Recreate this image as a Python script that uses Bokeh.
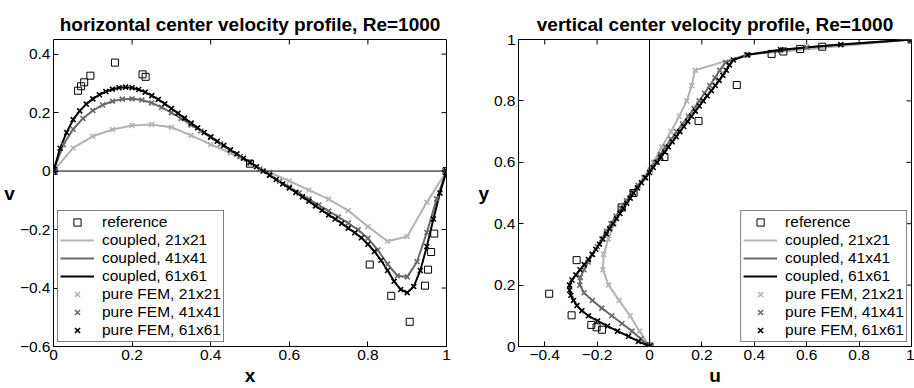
import numpy as np
from bokeh.plotting import figure
from bokeh.layouts import row
from bokeh.models import (Span, FixedTicker, CustomJSTickFormatter,
                          Legend, LegendItem, Range1d)
from bokeh.embed import file_html
from bokeh.resources import INLINE

# ---------------- data ----------------
# grid node positions of the three meshes
grid21 = np.linspace(0.0, 1.0, 21)
grid41 = np.linspace(0.0, 1.0, 41)
grid61 = np.linspace(0.0, 1.0, 61)

# horizontal center line: v(x)
ref_x = [1.0, 0.9688, 0.9609, 0.9531, 0.9453, 0.9063, 0.8594, 0.8047, 0.5,
         0.2344, 0.2266, 0.1563, 0.0938, 0.0781, 0.0703, 0.0625, 0.0]
ref_v = [0.0, -0.21388, -0.27669, -0.33714, -0.39188, -0.51550, -0.42665, -0.31966,
         0.02526, 0.32235, 0.33075, 0.37095, 0.32627, 0.30353, 0.29012, 0.27485, 0.0]

v21 = [0.000, 0.079, 0.119, 0.142, 0.156, 0.159, 0.150, 0.122, 0.091, 0.062, 0.025,
       -0.005, -0.034, -0.065, -0.096, -0.135, -0.190, -0.240, -0.224, -0.107, 0.000]

v41 = [0.000, 0.090, 0.143, 0.180, 0.207, 0.226, 0.239, 0.246, 0.247, 0.243, 0.233,
       0.218, 0.200, 0.180, 0.158, 0.137, 0.115, 0.093, 0.071, 0.050, 0.029,
       0.007, -0.014, -0.035, -0.055, -0.075, -0.096, -0.116, -0.137, -0.157, -0.178,
       -0.201, -0.230, -0.270, -0.318, -0.358, -0.362, -0.310, -0.210, -0.095, 0.000]

v61 = [0.000, 0.078, 0.132, 0.176, 0.206, 0.229, 0.247, 0.261, 0.272, 0.280, 0.285,
       0.287, 0.285, 0.279, 0.270, 0.258, 0.245, 0.230, 0.214, 0.198, 0.181,
       0.164, 0.148, 0.132, 0.117, 0.102, 0.088, 0.073, 0.059, 0.044, 0.030,
       0.015, 0.000, -0.014, -0.029, -0.044, -0.058, -0.073, -0.088, -0.103, -0.119,
       -0.134, -0.150, -0.164, -0.179, -0.195, -0.211, -0.228, -0.250, -0.275, -0.305,
       -0.340, -0.377, -0.405, -0.416, -0.395, -0.340, -0.258, -0.164, -0.075, 0.000]

# vertical center line: u(y)
ref_y = [1.0, 0.9766, 0.9688, 0.9609, 0.9531, 0.8516, 0.7344, 0.6172, 0.5,
         0.4531, 0.2813, 0.1719, 0.1016, 0.0703, 0.0625, 0.0547, 0.0]
ref_u = [1.0, 0.65928, 0.57492, 0.51117, 0.46604, 0.33304, 0.18719, 0.05702, -0.06080,
         -0.10648, -0.27805, -0.38289, -0.29730, -0.22220, -0.20196, -0.18109, 0.0]

u21 = [0.000, -0.038, -0.074, -0.116, -0.156, -0.178, -0.175, -0.157, -0.135, -0.108, -0.068,
       -0.022, 0.015, 0.047, 0.082, 0.113, 0.142, 0.161, 0.174, 0.370, 1.000]

u41 = [0.000, -0.033, -0.067, -0.105, -0.144, -0.182, -0.218, -0.250, -0.266, -0.264, -0.250,
       -0.234, -0.217, -0.199, -0.182, -0.165, -0.147, -0.128, -0.108, -0.088, -0.068,
       -0.044, -0.020, 0.003, 0.022, 0.041, 0.061, 0.082, 0.104, 0.126, 0.148,
       0.170, 0.190, 0.210, 0.230, 0.250, 0.268, 0.290, 0.370, 0.600, 1.000]

u61 = [0.000, -0.042, -0.080, -0.122, -0.160, -0.198, -0.233, -0.258, -0.277, -0.290, -0.300,
       -0.305, -0.305, -0.296, -0.281, -0.265, -0.249, -0.233, -0.219, -0.205, -0.191,
       -0.178, -0.165, -0.152, -0.139, -0.126, -0.113, -0.100, -0.087, -0.074, -0.061,
       -0.046, -0.031, -0.015, 0.000, 0.014, 0.029, 0.043, 0.058, 0.072, 0.087,
       0.102, 0.116, 0.131, 0.146, 0.160, 0.175, 0.190, 0.205, 0.220, 0.236,
       0.251, 0.266, 0.280, 0.293, 0.305, 0.320, 0.375, 0.500, 0.730, 1.000]

labels = ["reference", "coupled, 21x21", "coupled, 41x41", "coupled, 61x61",
          "pure FEM, 21x21", "pure FEM, 41x41", "pure FEM, 61x61"]

left_xrange = (0, 1)
left_yrange = (-0.6, 0.45)
right_xrange = (-0.5, 1)
right_yrange = (0, 1)
left_xticks = [0, 0.2, 0.4, 0.6, 0.8, 1]
left_yticks = [-0.6, -0.4, -0.2, 0, 0.2, 0.4]
right_xticks = [-0.4, -0.2, 0, 0.2, 0.4, 0.6, 0.8, 1]
right_yticks = [0, 0.2, 0.4, 0.6, 0.8, 1]

# ---------------- style ----------------
FONT = "Liberation Sans"
LIGHT = "#b3b3b3"
MID = "#6a6a6a"
DARK = "#000000"
COLORS = [LIGHT, MID, DARK]
TICK_LEN = 5

FMT_CODE = """
var s = Math.abs(tick) < 1e-9 ? '0' : (Math.round(tick * 10) / 10).toString();
return s.replace('-', '\\u2212');
"""


def style_axis(ax, ticks, label):
    ax.ticker = FixedTicker(ticks=ticks)
    ax.formatter = CustomJSTickFormatter(code=FMT_CODE)
    ax.major_tick_in = TICK_LEN
    ax.major_tick_out = 0
    ax.major_tick_line_color = "black"
    ax.minor_tick_line_color = None
    ax.axis_line_color = None
    ax.major_label_text_font = FONT
    ax.major_label_text_color = "black"
    ax.major_label_text_font_size = "15.5px"
    ax.major_label_standoff = 3
    ax.axis_label = label
    ax.axis_label_text_font = FONT
    ax.axis_label_text_font_size = "19px"
    ax.axis_label_text_font_style = "bold"
    ax.axis_label_text_color = "black"
    ax.axis_label_standoff = 2


def make_fig(title, xr, yr, xticks, yticks, xlabel, ylabel, bl, br):
    p = figure(width=457, height=388, x_range=Range1d(*xr), y_range=Range1d(*yr),
               output_backend="svg", toolbar_location=None, title=title,
               min_border_left=bl, min_border_right=br,
               min_border_top=39, min_border_bottom=40)
    p.title.text_font = FONT
    p.title.text_font_size = "19px"
    p.title.text_font_style = "bold"
    p.title.align = "center"
    p.title.text_color = "black"
    p.grid.visible = False
    p.outline_line_color = "black"
    p.outline_line_width = 1
    p.background_fill_color = "white"
    p.border_fill_color = "white"
    style_axis(p.xaxis[0], xticks, xlabel)
    style_axis(p.yaxis[0], yticks, ylabel)
    p.yaxis[0].axis_label_orientation = "horizontal"
    # inward tick marks on the top and right edges of the box
    p.ray(x=xticks, y=[yr[1]] * len(xticks), length=TICK_LEN, length_units="screen",
          angle=-np.pi / 2, line_color="black", line_width=1)
    p.ray(x=[xr[1]] * len(yticks), y=yticks, length=TICK_LEN, length_units="screen",
          angle=np.pi, line_color="black", line_width=1)
    return p


def add_legend(p, rends, loc):
    leg = Legend(items=[LegendItem(label=l, renderers=[r]) for l, r in zip(labels, rends)],
                 location=loc)
    leg.label_text_font = FONT
    leg.label_text_font_size = "15.5px"
    leg.label_text_color = "black"
    leg.border_line_color = "black"
    leg.border_line_width = 1.5
    leg.background_fill_alpha = 1
    leg.padding = 2
    leg.spacing = 0
    leg.label_height = 18
    leg.glyph_height = 18
    leg.glyph_width = 34
    leg.label_standoff = 8
    leg.margin = 4
    p.add_layout(leg)


# ---------------- left: horizontal profile ----------------
p1 = make_fig("horizontal center velocity profile, Re=1000", left_xrange, left_yrange,
              left_xticks, left_yticks, "x", "v", 53, 11)
p1.add_layout(Span(location=0, dimension="width", line_color="black", line_width=1))
lines1, marks1 = [], []
for g, s, c in zip([grid21, grid41, grid61], [v21, v41, v61], COLORS):
    lines1.append(p1.line(g, s, line_color=c, line_width=2))
for g, s, c in zip([grid21, grid41, grid61], [v21, v41, v61], COLORS):
    marks1.append(p1.scatter(g, s, marker="x", size=7, line_color=c, line_width=1.6))
ref1 = p1.scatter(ref_x, ref_v, marker="square", size=7, fill_color=None,
                  line_color="black", line_width=1)
add_legend(p1, [ref1] + lines1 + marks1, "bottom_left")

# ---------------- right: vertical profile ----------------
p2 = make_fig("vertical center velocity profile, Re=1000", right_xrange, right_yrange,
              right_xticks, right_yticks, "u", "y", 61, 3)
p2.add_layout(Span(location=0, dimension="height", line_color="black", line_width=1))
lines2, marks2 = [], []
for g, s, c in zip([grid21, grid41, grid61], [u21, u41, u61], COLORS):
    lines2.append(p2.line(s, g, line_color=c, line_width=2))
for g, s, c in zip([grid21, grid41, grid61], [u21, u41, u61], COLORS):
    marks2.append(p2.scatter(s, g, marker="x", size=7, line_color=c, line_width=1.6))
ref2 = p2.scatter(ref_u, ref_y, marker="square", size=7, fill_color=None,
                  line_color="black", line_width=1)
add_legend(p2, [ref2] + lines2 + marks2, "bottom_right")

layout = row(p1, p2)
open("out.html", "w").write(file_html(layout, INLINE))
